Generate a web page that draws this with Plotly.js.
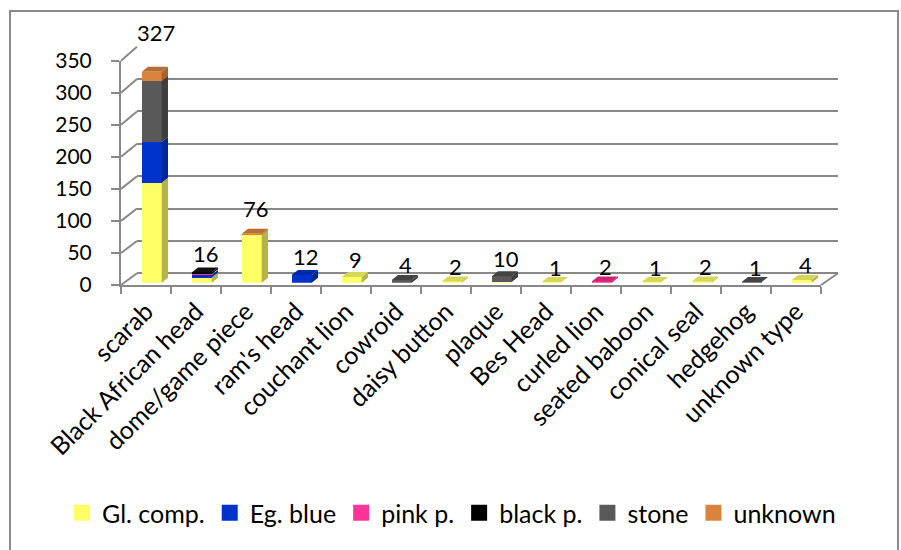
<!DOCTYPE html>
<html>
<head>
<meta charset="utf-8">
<script src="https://cdn.plot.ly/plotly-3.0.1.min.js"></script>
<style>
  html, body { margin: 0; padding: 0; background: #ffffff; }
  #chart { width: 901px; height: 550px; }
</style>
</head>
<body>
<div id="chart"></div>
<script>
// Amulet types and counts per material
const categories = ['scarab', 'Black African head', 'dome/game piece', "ram's head", 'couchant lion',
  'cowroid', 'daisy button', 'plaque', 'Bes Head', 'curled lion', 'seated baboon', 'conical seal',
  'hedgehog', 'unknown type'];
const glComp  = [155, 8, 74,  0, 9, 0, 2, 1, 1, 0, 1, 2, 0, 4];
const egBlue  = [ 63, 4,  0, 12, 0, 0, 0, 0, 0, 0, 0, 0, 0, 0];
const pinkP   = [  0, 1,  0,  0, 0, 0, 0, 0, 0, 2, 0, 0, 0, 0];
const blackP  = [  0, 3,  0,  0, 0, 0, 0, 0, 0, 0, 0, 0, 0, 0];
const stone   = [ 95, 0,  0,  0, 0, 4, 0, 9, 0, 0, 0, 0, 1, 0];
const unknown = [ 14, 0,  2,  0, 0, 0, 0, 0, 0, 0, 0, 0, 0, 0];
const seriesNames = ['Gl. comp.', 'Eg. blue', 'pink p.', 'black p.', 'stone', 'unknown'];
const yTicks = [0, 50, 100, 150, 200, 250, 300, 350];

const series = [glComp, egBlue, pinkP, blackP, stone, unknown];
// front / side / top shading for each material
const shades = [
  { front: '#FFFF66', side: '#B4B44A', top: '#D6D658' },
  { front: '#0033CC', side: '#00259A', top: '#0029AA' },
  { front: '#FF3399', side: '#B8236E', top: '#D02473' },
  { front: '#000000', side: '#000000', top: '#111111' },
  { front: '#595959', side: '#3E3E3E', top: '#444444' },
  { front: '#D9843C', side: '#A6642D', top: '#B86E33' }
];

const FONT = 'Lato, "Noto Sans", sans-serif';
const GRID = '#888888';
const W = 901, H = 550, YMAX = 350;
// pixel frames of the pseudo-3D box
const FRONT = { left: 121, right: 821, bottom: 285, top: 60.7 };   // front edge of floor / left wall
const BACK  = { left: 137, right: 838, bottom: 273.3, top: 46.7 }; // back wall
const BARS  = { left: 126.7, right: 826.7, bottom: 282.7, top: 56.95 }; // plane of the bar fronts
const BAR_W = 0.4;            // bar width in category units
const DEPTH_PX = [6.3, 5];    // bar depth drawn as side/top faces (px right, px up)

function domX(p) { return [p.left / W, p.right / W]; }
function domY(p) { return [(H - p.bottom) / H, (H - p.top) / H]; }

const n = categories.length;
const idx = categories.map((_, i) => i);
const totals = idx.map(i => series.reduce((s, arr) => s + arr[i], 0));

// depth offsets in bar-plane data units
const dx = DEPTH_PX[0] / ((BARS.right - BARS.left) / n);
const dy = DEPTH_PX[1] / ((BARS.bottom - BARS.top) / YMAX);
const hw = BAR_W / 2;

const traces = [];

// front faces: stacked bars
series.forEach((vals, s) => {
  traces.push({
    type: 'bar', name: seriesNames[s], x: idx, y: vals, width: BAR_W,
    marker: { color: shades[s].front, line: { width: 0 } },
    xaxis: 'x3', yaxis: 'y3', hoverinfo: 'skip', showlegend: false
  });
});

// side faces of every segment and top face of each stack
const sideX = series.map(() => []), sideY = series.map(() => []);
const topX = series.map(() => []), topY = series.map(() => []);
idx.forEach(i => {
  let base = 0, last = -1;
  series.forEach((vals, s) => {
    const v = vals[i];
    if (v <= 0) return;
    const y0 = base, y1 = base + v;
    sideX[s].push(i + hw, i + hw + dx, i + hw + dx, i + hw, i + hw, null);
    sideY[s].push(y0, y0 + dy, y1 + dy, y1, y0, null);
    base = y1; last = s;
  });
  if (last >= 0) {
    const t = base;
    topX[last].push(i - hw, i + hw, i + hw + dx, i - hw + dx, i - hw, null);
    topY[last].push(t, t, t + dy, t + dy, t, null);
  }
});
series.forEach((_, s) => {
  [[sideX[s], sideY[s], shades[s].side], [topX[s], topY[s], shades[s].top]].forEach(([xs, ys, c]) => {
    if (!xs.length) return;
    traces.push({
      type: 'scatter', mode: 'lines', x: xs, y: ys, fill: 'toself', fillcolor: c,
      line: { width: 0, color: c }, connectgaps: false, showlegend: false, hoverinfo: 'skip',
      xaxis: 'x3', yaxis: 'y3'
    });
  });
});

// legend keys: square swatches, one per material
series.forEach((_, s) => {
  traces.push({
    type: 'scatter', mode: 'markers', name: seriesNames[s], x: [null], y: [null],
    marker: { symbol: 'square', size: 16, color: shades[s].front, line: { width: 0 } },
    xaxis: 'x3', yaxis: 'y3', hoverinfo: 'skip', showlegend: true
  });
});

// anchors for the front axis categories and for the back wall
traces.push({ type: 'scatter', mode: 'markers', x: categories, y: totals, marker: { opacity: 0 },
  showlegend: false, hoverinfo: 'skip', xaxis: 'x', yaxis: 'y' });
traces.push({ type: 'scatter', mode: 'markers', x: [0], y: [0], marker: { opacity: 0 },
  showlegend: false, hoverinfo: 'skip', xaxis: 'x2', yaxis: 'y2' });

// value labels above each stack (raised a little more for taller stacks)
const annotations = idx.map(i => ({
  x: i, y: totals[i], xref: 'x3', yref: 'y3', text: String(totals[i]), showarrow: false,
  xanchor: 'center', yanchor: 'middle', xshift: 4, yshift: 13 + 1.45 * Math.sqrt(totals[i]),
  font: { family: FONT, size: 22, color: '#000000' }
}));

// left wall edges, right floor edge, outer frame
const fy = v => (H - (FRONT.bottom - (FRONT.bottom - FRONT.top) * v / YMAX)) / H;
const by = v => (H - (BACK.bottom - (BACK.bottom - BACK.top) * v / YMAX)) / H;
const shapes = yTicks.map(v => ({
  type: 'line', xref: 'paper', yref: 'paper',
  x0: FRONT.left / W, y0: fy(v), x1: BACK.left / W, y1: by(v),
  line: { color: GRID, width: 2 }
}));
shapes.push({ type: 'line', xref: 'paper', yref: 'paper',
  x0: FRONT.right / W, y0: fy(0), x1: BACK.right / W, y1: by(0), line: { color: GRID, width: 2 } });
shapes.push({ type: 'rect', xref: 'paper', yref: 'paper', x0: 10 / W, x1: 898 / W, y0: -0.05, y1: (H - 11) / H,
  line: { color: '#8a8a8a', width: 2 }, fillcolor: 'rgba(0,0,0,0)', layer: 'below' });

const layout = {
  width: W, height: H,
  margin: { l: 0, r: 0, t: 0, b: 0 },
  paper_bgcolor: '#ffffff', plot_bgcolor: 'rgba(0,0,0,0)',
  font: { family: FONT, size: 20, color: '#000000' },
  barmode: 'stack', bargap: 0,
  showlegend: true,
  legend: {
    orientation: 'h', x: 62 / W, xanchor: 'left', y: (H - 513) / H, yanchor: 'middle',
    traceorder: 'normal', font: { family: FONT, size: 25, color: '#000000' },
    bgcolor: 'rgba(0,0,0,0)', itemclick: false, itemdoubleclick: false
  },
  xaxis: {
    domain: domX(FRONT), anchor: 'y', type: 'category', categoryorder: 'array', categoryarray: categories,
    range: [-0.5, n - 0.5], showline: true, linecolor: GRID, linewidth: 2,
    ticks: 'outside', tickson: 'boundaries', ticklen: 7, tickwidth: 2, tickcolor: GRID,
    tickangle: -45, tickfont: { family: FONT, size: 25, color: '#000000' },
    showgrid: false, zeroline: false, fixedrange: true
  },
  yaxis: {
    domain: domY(FRONT), anchor: 'x', range: [0, YMAX], tickvals: yTicks,
    showline: true, linecolor: GRID, linewidth: 2,
    ticks: 'outside', ticklen: 8, tickwidth: 2, tickcolor: GRID, ticklabelstandoff: 15,
    tickfont: { family: FONT, size: 21, color: '#000000' },
    showgrid: false, zeroline: false, fixedrange: true
  },
  xaxis2: {
    domain: domX(BACK), anchor: 'y2', range: [0, 1], showticklabels: false, ticks: '',
    showgrid: false, zeroline: false, showline: false, fixedrange: true
  },
  yaxis2: {
    domain: domY(BACK), anchor: 'x2', range: [0, YMAX], tickvals: yTicks, showticklabels: false, ticks: '',
    showgrid: true, gridcolor: GRID, gridwidth: 2, zeroline: true, zerolinecolor: GRID, zerolinewidth: 2,
    showline: false, fixedrange: true
  },
  xaxis3: {
    domain: domX(BARS), anchor: 'y3', range: [-0.5, n - 0.5], visible: false, fixedrange: true
  },
  yaxis3: {
    domain: domY(BARS), anchor: 'x3', range: [0, YMAX], visible: false, fixedrange: true
  },
  annotations: annotations,
  shapes: shapes
};

Plotly.newPlot('chart', traces, layout, { displayModeBar: false, staticPlot: true });
</script>
</body>
</html>
